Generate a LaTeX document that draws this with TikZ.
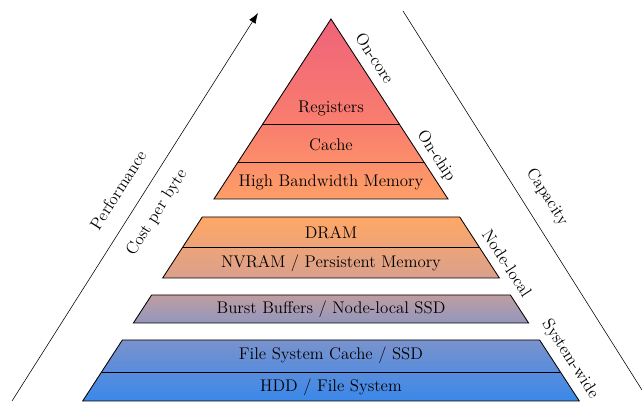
\documentclass[tikz,border=0pt]{standalone}
\usepackage{tikz}
\usetikzlibrary{arrows.meta,calc}

% colours of the memory hierarchy
\definecolor{hddblue}{HTML}{3A88EA}
\definecolor{fsblue}{HTML}{7A92CC}
\definecolor{bbgrey}{HTML}{A89AB0}
\definecolor{nvtan}{HTML}{D9A08D}
\definecolor{dramorange}{HTML}{FFA766}
\definecolor{cachesalmon}{HTML}{F97E6E}
\definecolor{regpink}{HTML}{EF637A}
\pgfdeclareverticalshading{hierarchy}{100bp}{%
  color(0bp)=(hddblue); color(25bp)=(hddblue); color(33bp)=(fsblue);
  color(37bp)=(bbgrey); color(41bp)=(nvtan); color(49bp)=(dramorange);
  color(61bp)=(cachesalmon); color(75bp)=(regpink); color(100bp)=(regpink)}

% left and right edge of the pyramid at height #1
\newcommand{\pyrL}[1]{8.275-0.65*(9.575-#1)}
\newcommand{\pyrR}[1]{8.275+0.65*(9.575-#1)}

\begin{document}
\begin{tikzpicture}[font=\large]
      \useasboundingbox (0,0) rectangle (16.05,10.05);

      % Pyramid, cut into four blocks
      \shade[shading=hierarchy, draw, semithick]
        (8.275,9.575) -- ({\pyrR{5.075}},5.075) -- ({\pyrL{5.075}},5.075) -- cycle
        ({\pyrL{4.625}},4.625) -- ({\pyrR{4.625}},4.625) -- ({\pyrR{3.1}},3.1) -- ({\pyrL{3.1}},3.1) -- cycle
        ({\pyrL{2.675}},2.675) -- ({\pyrR{2.675}},2.675) -- ({\pyrR{1.975}},1.975) -- ({\pyrL{1.975}},1.975) -- cycle
        ({\pyrL{1.55}},1.55) -- ({\pyrR{1.55}},1.55) -- ({\pyrR{0.025}},0.025) -- ({\pyrL{0.025}},0.025) -- cycle;
      % Dividing lines inside the blocks
      \draw[semithick] ({\pyrL{6.95}},6.95) -- ({\pyrR{6.95}},6.95);
      \draw[semithick] ({\pyrL{6.0}},6.0) -- ({\pyrR{6.0}},6.0);
      \draw[semithick] ({\pyrL{3.875}},3.875) -- ({\pyrR{3.875}},3.875);
      \draw[semithick] ({\pyrL{0.75}},0.75) -- ({\pyrR{0.75}},0.75);

      % Layer names
      \node (reg) at (8.275,7.35) {Registers};
      \node (cache) at (8.275,6.425) {Cache};
      \node (hbm) at (8.275,5.5) {High Bandwidth Memory};
      \node (dram) at (8.275,4.225) {DRAM};
      \node (nvram) at (8.275,3.475) {NVRAM / Persistent Memory};
      \node (bb) at (8.275,2.325) {Burst Buffers / Node-local SSD};
      \node (fsc) at (8.275,1.175) {File System Cache / SSD};
      \node (hdd) at (8.275,0.375) {HDD / File System};

      % Scope of each block
      \node[rotate=-57] (oncore) at (9.375,8.6) {On-core};
      \node[rotate=-57] (onchip) at (10.9,6.15) {On-chip};
      \node[rotate=-57] (nodelocal) at (12.675,3.475) {Node-local};
      \node[rotate=-57] (syswide) at (14.25,1.075) {System-wide};

      % Performance arrow on the left
      \coordinate (perflow) at (0.3,0.025);
      \coordinate (perfhigh) at (6.45,9.725);
      \draw[-{Latex[length=2.6mm,width=1.9mm]}] (perflow) -- (perfhigh);
      \node[rotate=57.6] (perf) at (2.95,5.3) {Performance};
      \node[rotate=57.6] (cost) at (3.925,4.725) {Cost per byte};

      % Capacity line on the right
      \coordinate (captop) at (10.075,9.775);
      \coordinate (capbot) at (16.05,0.3);
      \draw (captop) -- (capbot);
      \node[rotate=-57.6] (cap) at (13.675,5.125) {Capacity};
    \end{tikzpicture}
\end{document}
